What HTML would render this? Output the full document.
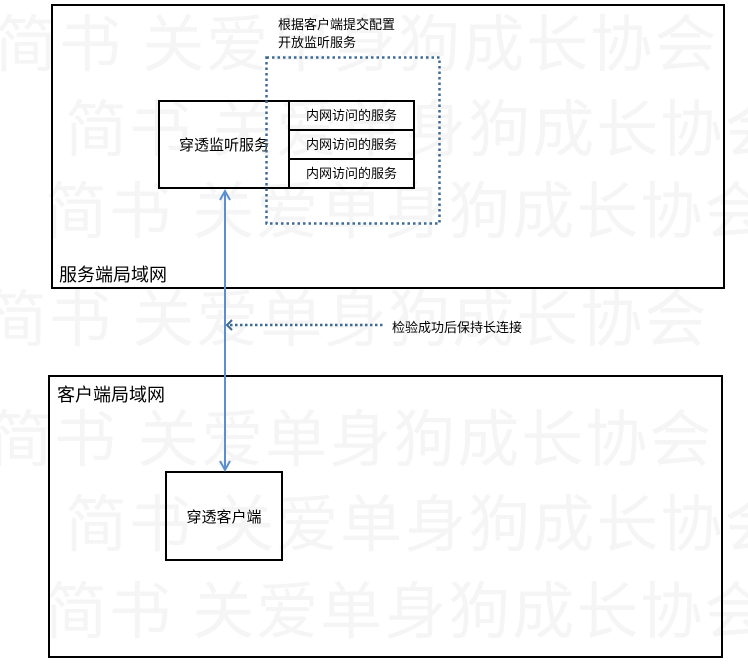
<!DOCTYPE html>
<html><head><meta charset="utf-8"><style>
body{margin:0;width:748px;height:670px;background:#fff;position:relative;overflow:hidden;font-family:"Liberation Sans","Noto Sans CJK SC",sans-serif;color:#000}
.a{position:absolute;box-sizing:border-box}
.wm{position:absolute;font-size:62px;color:#f5f5f5;white-space:nowrap;letter-spacing:2px;line-height:1}
</style></head><body>
<div class="wm" style="left:-5px;top:15px">简书 关爱单身狗成长协会</div>
<div class="wm" style="left:65px;top:100px">简书 关爱单身狗成长协会</div>
<div class="wm" style="left:45px;top:182px">简书 关爱单身狗成长协会</div>
<div class="wm" style="left:-15px;top:290px">简书 关爱单身狗成长协会</div>
<div class="wm" style="left:-10px;top:410px">简书 关爱单身狗成长协会</div>
<div class="wm" style="left:65px;top:495px">简书 关爱单身狗成长协会</div>
<div class="wm" style="left:45px;top:582px">简书 关爱单身狗成长协会</div>

<div class="a" style="left:51px;top:4px;width:674px;height:285px;border:2px solid #000"></div>
<div class="a" style="left:59px;top:261px;font-size:18px">服务端局域网</div>
<div class="a" style="left:48px;top:375px;width:675px;height:283px;border:2px solid #000"></div>
<div class="a" style="left:57px;top:381px;font-size:18px">客户端局域网</div>

<div class="a" style="left:278px;top:16px;font-size:13px;line-height:18px">根据客户端提交配置<br>开放监听服务</div>

<div class="a" style="left:158px;top:100px;width:132px;height:89px;border:2px solid #000;display:flex;align-items:center;justify-content:center;font-size:15px">穿透监听服务</div>
<div class="a" style="left:288px;top:100px;width:127px;height:31px;border:2px solid #000;font-size:13px;text-align:center;line-height:27px">内网访问的服务</div>
<div class="a" style="left:288px;top:129px;width:127px;height:31px;border:2px solid #000;font-size:13px;text-align:center;line-height:27px">内网访问的服务</div>
<div class="a" style="left:288px;top:158px;width:127px;height:31px;border:2px solid #000;font-size:13px;text-align:center;line-height:27px">内网访问的服务</div>

<div class="a" style="left:165px;top:471px;width:118px;height:90px;border:2px solid #000;display:flex;align-items:center;justify-content:center;font-size:15px">穿透客户端</div>

<div class="a" style="left:392px;top:317px;font-size:13px">检验成功后保持长连接</div>

<svg class="a" style="left:0;top:0" width="748" height="670">
<rect x="266.5" y="57.5" width="173" height="166" fill="none" stroke="#3e6a96" stroke-width="2.5" stroke-dasharray="2.5 3"/>
<line x1="225" y1="192" x2="225" y2="470" stroke="#5b8fcf" stroke-width="2"/>
<polyline points="220,200 225,191 230,200" fill="none" stroke="#5b8fcf" stroke-width="2"/>
<polyline points="220,461 225,470 230,461" fill="none" stroke="#5b8fcf" stroke-width="2"/>
<line x1="230" y1="325" x2="384" y2="325" stroke="#3e6a96" stroke-width="2.5" stroke-dasharray="2.5 2.5"/>
<polyline points="232,320 227,325 232,330" fill="none" stroke="#3e6a96" stroke-width="2"/>
</svg>
</body></html>
